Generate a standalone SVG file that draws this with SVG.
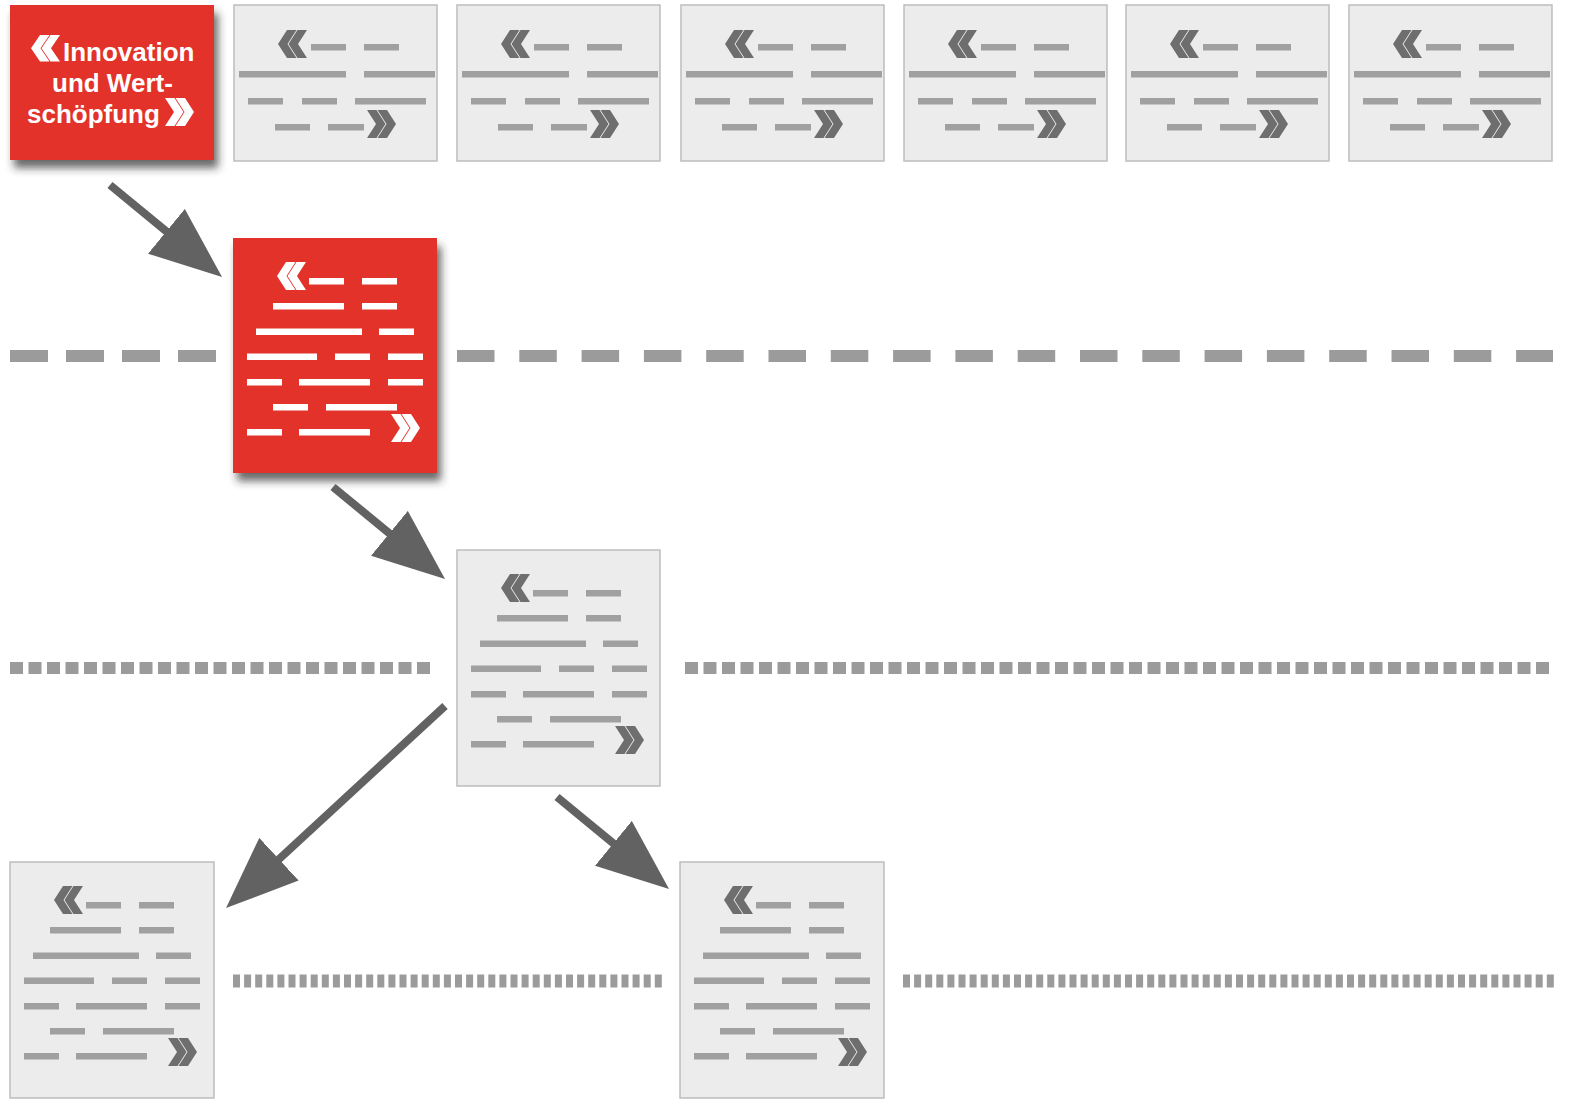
<svg xmlns="http://www.w3.org/2000/svg" width="1577" height="1104" viewBox="0 0 1577 1104">
<style>
.card{fill:#ececec;stroke:#bdbdbd;stroke-width:1.5}
.red{fill:#e2302a}
.g{fill:#a0a0a0;color:#6e6e6e}
.w{fill:#ffffff;color:#ffffff}
.title{font-family:"Liberation Sans",Arial,sans-serif;font-weight:bold;font-size:26px;fill:#ffffff}
.sep{fill:none;stroke:#9b9b9b}
.arrow{stroke:#626262;stroke-width:8;fill:none;marker-end:url(#head)}
</style>
<defs>
<filter id="shadow" x="-10%" y="-10%" width="130%" height="130%">
<feDropShadow dx="4" dy="8" stdDeviation="4.5" flood-color="#2a2a2a" flood-opacity="0.7"/>
</filter>
<marker id="head" viewBox="0 0 72 58" markerWidth="72" markerHeight="58" markerUnits="userSpaceOnUse" refX="22" refY="29" orient="auto">
<path d="M0,0 L72,29 L0,58 Z" fill="#626262"/>
</marker>
<g id="lq"><path fill="currentColor" d="M9,0 L18.5,0 L9.5,14 L18.5,28 L9,28 L0,14 Z M19.5,0 L29,0 L20,14 L29,28 L19.5,28 L10.5,14 Z"/></g>
<g id="rq"><path fill="currentColor" d="M0,0 L9.5,0 L18.5,14 L9.5,28 L0,28 L9,14 Z M10.5,0 L20,0 L29,14 L20,28 L10.5,28 L19.5,14 Z"/></g>
<g id="smallText">
<use href="#lq" x="44" y="25"/>
<use href="#rq" x="133" y="105"/>
<rect x="77" y="39" width="35" height="6.5"/><rect x="130" y="39" width="35" height="6.5"/>
<rect x="5" y="66" width="107" height="6.5"/><rect x="130" y="66" width="71" height="6.5"/>
<rect x="14" y="93" width="35" height="6.5"/><rect x="68" y="93" width="35" height="6.5"/><rect x="121" y="93" width="71" height="6.5"/>
<rect x="41" y="119" width="35" height="6.5"/><rect x="94" y="119" width="36" height="6.5"/>
</g>
<g id="tallText">
<use href="#lq" x="44" y="24"/>
<use href="#rq" x="158" y="176"/>
<rect x="76" y="40" width="35" height="6.5"/><rect x="129" y="40" width="35" height="6.5"/>
<rect x="40" y="65" width="71" height="6.5"/><rect x="129" y="65" width="35" height="6.5"/>
<rect x="23" y="90.5" width="106" height="6.5"/><rect x="146" y="90.5" width="35" height="6.5"/>
<rect x="14" y="115.5" width="70" height="6.5"/><rect x="102" y="115.5" width="35" height="6.5"/><rect x="155" y="115.5" width="35" height="6.5"/>
<rect x="14" y="141" width="35" height="6.5"/><rect x="66" y="141" width="71" height="6.5"/><rect x="155" y="141" width="35" height="6.5"/>
<rect x="40" y="166" width="35" height="6.5"/><rect x="93" y="166" width="71" height="6.5"/>
<rect x="14" y="191" width="35" height="6.5"/><rect x="66" y="191" width="71" height="6.5"/>
</g>
</defs>
<rect width="1577" height="1104" fill="#ffffff"/>

<g id="separators">
<line class="sep" x1="10" y1="356" x2="216" y2="356" stroke-width="12" stroke-dasharray="38 18"/>
<line class="sep" x1="457" y1="356" x2="1553" y2="356" stroke-width="12" stroke-dasharray="37.5 24.8"/>
<line class="sep" x1="10" y1="668" x2="432" y2="668" stroke-width="12" stroke-dasharray="13 5.5"/>
<line class="sep" x1="685" y1="668" x2="1553" y2="668" stroke-width="12" stroke-dasharray="13 5.5"/>
<line class="sep" x1="233" y1="981" x2="662" y2="981" stroke-width="13" stroke-dasharray="7 4.1"/>
<line class="sep" x1="903" y1="981" x2="1554" y2="981" stroke-width="13" stroke-dasharray="7 4.1"/>
</g>

<g id="title-node">
<rect class="red" x="10" y="5" width="204" height="155" filter="url(#shadow)"/>
<g class="w" transform="translate(31,35) scale(1.0,0.95)"><use href="#lq"/></g>
<text class="title" x="63" y="61">Innovation</text>
<text class="title" x="52" y="92">und Wert-</text>
<text class="title" x="27" y="123">schöpfung</text>
<g class="w" transform="translate(165,98)"><use href="#rq"/></g>
</g>

<g id="top-card-1"><rect class="card" x="234" y="5" width="203" height="156"/><use href="#smallText" x="234" y="5" class="g"/></g>
<g id="top-card-2"><rect class="card" x="457" y="5" width="203" height="156"/><use href="#smallText" x="457" y="5" class="g"/></g>
<g id="top-card-3"><rect class="card" x="681" y="5" width="203" height="156"/><use href="#smallText" x="681" y="5" class="g"/></g>
<g id="top-card-4"><rect class="card" x="904" y="5" width="203" height="156"/><use href="#smallText" x="904" y="5" class="g"/></g>
<g id="top-card-5"><rect class="card" x="1126" y="5" width="203" height="156"/><use href="#smallText" x="1126" y="5" class="g"/></g>
<g id="top-card-6"><rect class="card" x="1349" y="5" width="203" height="156"/><use href="#smallText" x="1349" y="5" class="g"/></g>

<g id="red-document">
<rect class="red" x="233" y="238" width="204" height="235" filter="url(#shadow)"/>
<use href="#tallText" x="233" y="238" class="w"/>
</g>

<g id="middle-document">
<rect class="card" x="457" y="550" width="203" height="236"/>
<use href="#tallText" x="457" y="550" class="g"/>
</g>

<g id="bottom-left-document">
<rect class="card" x="10" y="862" width="204" height="236"/>
<use href="#tallText" x="10" y="862" class="g"/>
</g>

<g id="bottom-right-document">
<rect class="card" x="680" y="862" width="204" height="236"/>
<use href="#tallText" x="680" y="862" class="g"/>
</g>

<g id="connectors">
<line class="arrow" x1="110" y1="185" x2="183.4" y2="245.3"/>
<line class="arrow" x1="333" y1="487" x2="406.4" y2="547.3"/>
<line class="arrow" x1="445" y1="706" x2="262.8" y2="874.1"/>
<line class="arrow" x1="557" y1="797" x2="630.4" y2="857.3"/>
</g>
</svg>
